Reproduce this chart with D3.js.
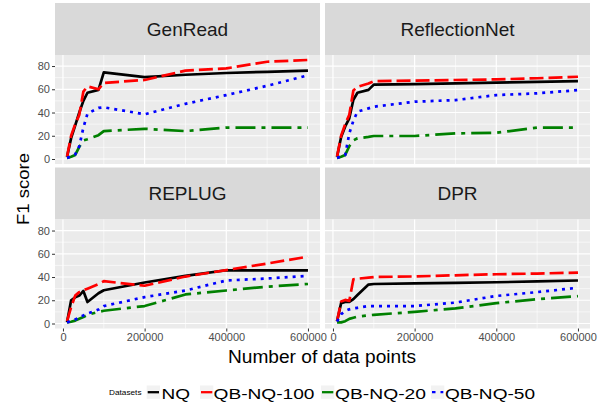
<!DOCTYPE html>
<html><head><meta charset="utf-8">
<script src="https://cdn.jsdelivr.net/npm/d3@7"></script>
<style>
html,body{margin:0;padding:0;background:#fff;}
svg{display:block;font-family:"Liberation Sans",Arial,Helvetica,sans-serif;}
</style></head>
<body><svg id="c" width="603" height="403"></svg>
<script>
// ---- data ----
const xPoints = [10000, 20000, 30000, 40000, 50000, 60000, 87000, 100000, 200000, 300000, 400000, 500000, 600000];
const panelNames = ["GenRead", "ReflectionNet", "REPLUG", "DPR"];
const seriesNames = ["NQ", "QB-NQ-100", "QB-NQ-20", "QB-NQ-50"];
const xTicks = [0, 200000, 400000, 600000];
const xMinor = [100000, 300000, 500000];
const yTicks = [0, 20, 40, 60, 80];
const yMinor = [10, 30, 50, 70];

const genReadNQ     = [2, 18, 29, 40, 50, 57, 59.5, 74.5, 70.5, 72.5, 74, 75, 76];
const genReadQB100  = [2, 20, 30, 38, 58, 62.5, 60, 65.5, 68, 76, 78, 83.7, 85.2];
const genReadQB20   = [1, 2, 3.5, 10.5, 16, 17, 20.5, 24, 26, 24, 27, 27, 27];
const genReadQB50   = [1, 2, 4, 11, 27, 39, 44, 44.5, 38.5, 47.5, 55, 63, 72];

const reflNQ        = [2, 19, 28, 35, 51, 57, 59.5, 64, 64.5, 65, 65.8, 66.3, 67];
const reflQB100     = [2, 20, 30, 38, 59, 62, 65, 67, 67.5, 68, 68.5, 69.5, 70.8];
const reflQB20      = [1, 2, 3.5, 11, 16, 17.8, 19, 19.8, 19.8, 22, 22.6, 27, 27];
const reflQB50      = [1, 2, 3.5, 22, 33, 40.7, 43.6, 45, 49.3, 50.7, 55, 56.5, 59.3];

const replugNQ      = [1, 20, 22.5, 24, 28, 18.5, 26, 28.6, 35.3, 41, 45.8, 45.8, 45.8];
const replugQB100   = [2, 14, 24, 27, 28.5, 30, 34, 36.4, 32.5, 40.4, 46, 51.6, 57.5];
const replugQB20    = [1, 1.5, 2.5, 4, 5.5, 7.5, 10, 11, 15, 25, 28.4, 31.7, 34];
const replugQB50    = [1, 2, 3.5, 5, 7, 8.5, 12, 15, 22.7, 28.4, 37, 38.7, 41];

const dprNQ         = [2, 17.5, 18.5, 18.6, 21, 24.5, 33.5, 34, 34.5, 35, 35.5, 36.2, 37];
const dprQB100      = [2, 19, 20.3, 19.5, 38, 38.5, 39.5, 40, 40.5, 41.5, 42.4, 43, 43.8];
const dprQB20       = [1, 1, 2, 4, 5, 6, 7, 7.5, 10, 13, 17.5, 21, 23.5];
const dprQB50       = [1.7, 8, 10.8, 12.2, 13, 13.5, 15, 15, 15, 18, 23.7, 27, 30.8];

const panelData = {
  "GenRead": [genReadNQ, genReadQB100, genReadQB20, genReadQB50],
  "ReflectionNet": [reflNQ, reflQB100, reflQB20, reflQB50],
  "REPLUG": [replugNQ, replugQB100, replugQB20, replugQB50],
  "DPR": [dprNQ, dprQB100, dprQB20, dprQB50]
};

// ---- styles ----
const colors = ["#000000", "#ff0000", "#008000", "#0000ff"];
const dashes = [null, "14,5", "20,6,4,6", "3,5"];
const lineW = 2.7;

const svg = d3.select("#c");
const cols = [[55, 320], [325, 590]];
const rows = [{strip: [3, 55], plot: [55, 164]}, {strip: [167.5, 219.5], plot: [219.5, 328.5]}];

const xDomain = [-19500, 629500];
const yDomain = [-4.3, 89.5];

panelNames.forEach((name, i) => {
  const c = cols[i % 2], r = rows[Math.floor(i / 2)];
  const x = d3.scaleLinear().domain(xDomain).range(c);
  const y = d3.scaleLinear().domain(yDomain).range([r.plot[1], r.plot[0]]);
  const g = svg.append("g");

  // strip
  g.append("rect").attr("x", c[0]).attr("y", r.strip[0]).attr("width", c[1] - c[0])
    .attr("height", r.strip[1] - r.strip[0]).attr("fill", "#d9d9d9");
  g.append("text").attr("x", (c[0] + c[1]) / 2).attr("y", (r.strip[0] + r.strip[1]) / 2)
    .attr("text-anchor", "middle").attr("dominant-baseline", "central")
    .attr("font-size", 19).attr("fill", "#1a1a1a").text(name);

  // panel bg
  g.append("rect").attr("x", c[0]).attr("y", r.plot[0]).attr("width", c[1] - c[0])
    .attr("height", r.plot[1] - r.plot[0]).attr("fill", "#ebebeb");

  // grid
  const grid = g.append("g").attr("stroke", "#fff");
  yMinor.forEach(v => grid.append("line").attr("x1", c[0]).attr("x2", c[1]).attr("y1", y(v)).attr("y2", y(v)).attr("stroke-width", 0.6));
  xMinor.forEach(v => grid.append("line").attr("y1", r.plot[0]).attr("y2", r.plot[1]).attr("x1", x(v)).attr("x2", x(v)).attr("stroke-width", 0.6));
  yTicks.forEach(v => grid.append("line").attr("x1", c[0]).attr("x2", c[1]).attr("y1", y(v)).attr("y2", y(v)).attr("stroke-width", 1.2));
  xTicks.forEach(v => grid.append("line").attr("y1", r.plot[0]).attr("y2", r.plot[1]).attr("x1", x(v)).attr("x2", x(v)).attr("stroke-width", 1.2));

  // clip
  const cid = "clip" + i;
  svg.append("clipPath").attr("id", cid).append("rect")
    .attr("x", c[0]).attr("y", r.plot[0]).attr("width", c[1] - c[0]).attr("height", r.plot[1] - r.plot[0]);

  const line = d3.line().x((d, k) => x(xPoints[k])).y(d => y(d));
  const lg = g.append("g").attr("clip-path", `url(#${cid})`);
  panelData[name].forEach((vals, s) => {
    lg.append("path").attr("d", line(vals)).attr("fill", "none")
      .attr("stroke", colors[s]).attr("stroke-width", lineW)
      .attr("stroke-linejoin", "round").attr("stroke-linecap", "butt")
      .attr("stroke-dasharray", dashes[s]);
  });

  // axes
  if (i % 2 === 0) {
    const ay = g.append("g").attr("transform", `translate(${c[0]},0)`)
      .call(d3.axisLeft(y).tickValues(yTicks).tickSize(3).tickPadding(2));
    ay.select(".domain").remove();
    ay.selectAll(".tick line").attr("stroke", "#333").attr("stroke-width", 1);
    ay.selectAll(".tick text").attr("font-size", 11).attr("fill", "#4d4d4d")
      .attr("font-family", "Liberation Sans, Arial, sans-serif");
  }
  if (i >= 2) {
    const ax = g.append("g").attr("transform", `translate(0,${r.plot[1]})`)
      .call(d3.axisBottom(x).tickValues(xTicks).tickFormat(d3.format("d")).tickSize(3).tickPadding(2));
    ax.select(".domain").remove();
    ax.selectAll(".tick line").attr("stroke", "#333").attr("stroke-width", 1);
    ax.selectAll(".tick text").attr("font-size", 11).attr("fill", "#4d4d4d")
      .attr("font-family", "Liberation Sans, Arial, sans-serif");
  }
});

// axis titles
svg.append("text").attr("x", 322).attr("y", 362.5).attr("text-anchor", "middle")
  .attr("font-size", 18).attr("fill", "#000").attr("textLength", 188)
  .attr("lengthAdjust", "spacingAndGlyphs").text("Number of data points");
svg.append("text").attr("transform", "translate(28.5,189) rotate(-90)").attr("text-anchor", "middle")
  .attr("font-size", 17).attr("fill", "#000").attr("textLength", 72)
  .attr("lengthAdjust", "spacingAndGlyphs").text("F1 score");

// legend
const legendTitle = "Datasets";
svg.append("text").attr("x", 109).attr("y", 394.5).attr("font-size", 7).attr("fill", "#000")
  .attr("textLength", 32.5).attr("lengthAdjust", "spacingAndGlyphs").text(legendTitle);
const keyX = [146.7, 200, 321, 431];
const labelX = [161.5, 213.5, 335, 445];
const labelW = [28.5, 101, 91, 90];
seriesNames.forEach((s, k) => {
  svg.append("rect").attr("x", keyX[k]).attr("y", 385.5).attr("width", 13.3).attr("height", 13.3).attr("fill", "#f2f2f2");
  svg.append("line").attr("x1", keyX[k] + 1).attr("x2", keyX[k] + 12.3).attr("y1", 392.2).attr("y2", 392.2)
    .attr("stroke", colors[k]).attr("stroke-width", 2.3).attr("stroke-dasharray", k === 3 ? "3.5,5" : null);
  svg.append("text").attr("x", labelX[k]).attr("y", 398.5).attr("font-size", 15).attr("fill", "#000")
    .attr("textLength", labelW[k]).attr("lengthAdjust", "spacingAndGlyphs").text(s);
});
</script></body></html>
